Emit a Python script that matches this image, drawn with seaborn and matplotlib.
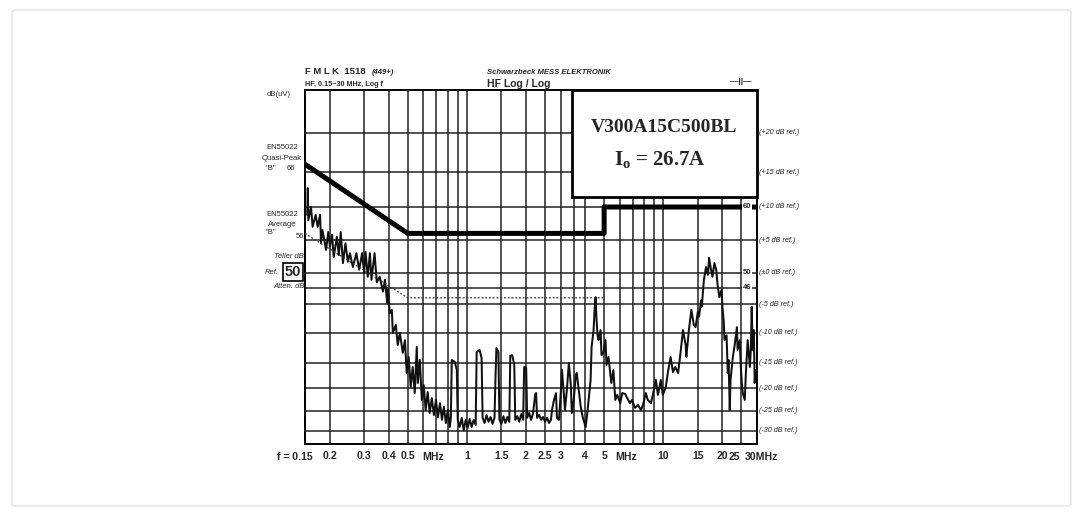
import numpy as np
import matplotlib
matplotlib.use("Agg")
import matplotlib.pyplot as plt
from matplotlib.patches import Rectangle, FancyBboxPatch
from matplotlib.ticker import NullLocator
import seaborn as sns

# --- data (MHz / dB(uV)) ---
grid_freq = [0.15, 0.2, 0.3, 0.4, 0.5, 0.6, 0.7, 0.8, 0.9, 1, 1.5, 2, 2.5, 3, 3.5, 4,
             5, 6, 7, 8, 9, 10, 15, 20, 25, 30]
tick_freq = [0.2, 0.3, 0.4, 0.5, 1, 1.5, 2, 2.5, 3, 4, 5, 10, 15, 20]
tick_text = ['0.2', '0.3', '0.4', '0.5', '1', '1.5', '2', '2.5', '3', '4', '5', '10', '15', '20']

grid_level = [20, 25, 30, 35, 40, 45, 50, 55, 60, 65, 70]
ref_text = ['(-30 dB ref.)', '(-25 dB ref.)', '(-20 dB ref.)', '(-15 dB ref.)', '(-10 dB ref.)',
            '(-5 dB ref.)', '(±0 dB ref.)', '(+5 dB ref.)', '(+10 dB ref.)', '(+15 dB ref.)',
            '(+20 dB ref.)']
mark_level = [60, 50, 47.6]
mark_text = ['60', '50', '46']

# EN55022 class B limits
qp_freq = [0.15, 0.5, 5, 5, 30]
qp_level = [66, 56, 56, 60, 60]
avg_freq = [0.15, 0.5, 5]
avg_level = [56, 46, 46]

# measured trace
trace_freq = [0.154, 0.155, 0.156, 0.161, 0.164, 0.170, 0.174, 0.179, 0.181, 0.184, 0.192, 0.197,
              0.201, 0.206, 0.210, 0.218, 0.223, 0.228, 0.234, 0.241, 0.248, 0.254, 0.263, 0.274,
              0.283, 0.293, 0.300, 0.305, 0.313, 0.321, 0.327, 0.339, 0.348, 0.360, 0.374, 0.383,
              0.393, 0.397, 0.405, 0.415, 0.420, 0.435, 0.445, 0.456, 0.472, 0.484, 0.494, 0.506,
              0.518, 0.530, 0.543, 0.556, 0.563, 0.576, 0.590, 0.603, 0.617, 0.632, 0.647, 0.663,
              0.680, 0.696, 0.713, 0.730, 0.747, 0.764, 0.782, 0.800, 0.819, 0.829, 0.838, 0.868,
              0.889, 0.899, 0.920, 0.942, 0.964, 0.987, 1.010, 1.034, 1.058, 1.083, 1.109, 1.122,
              1.161, 1.189, 1.203, 1.231, 1.260, 1.289, 1.320, 1.351, 1.383, 1.398, 1.414, 1.448,
              1.465, 1.499, 1.535, 1.571, 1.608, 1.645, 1.664, 1.703, 1.744, 1.764, 1.806, 1.848,
              1.891, 1.935, 1.958, 2.005, 2.028, 2.076, 2.124, 2.175, 2.226, 2.252, 2.278, 2.332,
              2.387, 2.443, 2.501, 2.560, 2.620, 2.682, 2.713, 2.777, 2.843, 2.876, 2.945, 3.013,
              3.049, 3.121, 3.157, 3.231, 3.306, 3.384, 3.423, 3.502, 3.585, 3.627, 3.712, 3.800,
              3.889, 4.025, 4.120, 4.168, 4.266, 4.316, 4.418, 4.470, 4.522, 4.575, 4.629, 4.682,
              4.793, 4.849, 4.960, 5.08, 5.14, 5.26, 5.38, 5.44, 5.57, 5.70, 5.83, 6.04,
              6.18, 6.40, 6.55, 6.77, 6.93, 7.18, 7.44, 7.70, 7.88, 8.15, 8.34, 8.65,
              8.85, 9.17, 9.39, 9.72, 9.95, 10.3, 10.6, 10.9, 11.2, 11.5, 11.9, 12.2,
              12.6, 13.0, 13.1, 13.5, 13.9, 14.3, 14.6, 15.0, 15.2, 15.6, 15.7, 16.1,
              16.5, 16.9, 17.1, 17.5, 17.8, 18.2, 18.6, 18.9, 19.3, 19.8, 20.0, 20.3,
              20.5, 21.0, 21.3, 21.5, 21.8, 22.0, 22.6, 23.1, 23.7, 23.9, 24.5, 24.8,
              25.1, 25.4, 26.0, 26.3, 26.6, 26.9, 27.6, 27.9, 28.2, 28.5, 28.9, 29.2, 29.5]
trace_level = [58.8, 62.7, 58.0, 60.0, 57.0, 58.8, 57.0, 58.8, 54.5, 56.5, 53.5, 56.2,
               54.0, 55.8, 52.4, 55.5, 52.7, 56.2, 51.5, 54.5, 51.7, 53.0, 50.9, 53.0,
               50.5, 53.0, 50.0, 53.2, 49.4, 53.0, 48.9, 53.0, 48.5, 49.4, 47.0, 48.9,
               45.2, 47.3, 43.4, 44.0, 40.0, 41.4, 38.0, 40.0, 36.7, 38.8, 33.0, 36.0,
               30.2, 34.2, 28.9, 37.7, 31.0, 35.5, 27.4, 30.6, 25.2, 29.1, 24.5, 27.8,
               24.0, 27.4, 23.5, 26.7, 22.8, 25.9, 22.0, 25.2, 21.0, 23.3, 35.5, 35.2,
               33.6, 22.8, 21.0, 23.3, 20.2, 22.8, 20.8, 23.0, 21.0, 22.8, 21.5, 36.8,
               37.2, 35.8, 23.3, 22.0, 24.0, 22.3, 23.5, 21.8, 23.3, 31.6, 37.5, 36.8,
               22.8, 21.8, 23.7, 22.0, 23.5, 22.3, 36.2, 36.3, 34.6, 22.8, 23.7, 22.3,
               24.2, 22.8, 34.2, 34.0, 23.3, 24.5, 22.8, 24.5, 28.5, 28.9, 23.3, 24.0,
               22.8, 23.5, 22.3, 23.3, 22.0, 22.8, 25.2, 27.4, 28.9, 23.3, 22.8, 29.6,
               33.6, 28.5, 25.2, 29.6, 35.0, 30.6, 24.5, 27.4, 32.6, 33.0, 29.6, 25.9,
               23.5, 21.0, 25.2, 27.4, 31.6, 37.7, 40.5, 44.0, 46.1, 42.2, 39.6, 38.8,
               40.5, 36.3, 36.7, 38.8, 34.6, 36.0, 32.6, 31.0, 33.6, 27.4, 28.5, 26.7,
               28.9, 28.7, 27.8, 26.7, 27.4, 25.7, 26.3, 25.2, 26.3, 28.9, 27.4, 26.7,
               28.5, 31.6, 28.5, 31.6, 28.5, 30.2, 33.6, 36.0, 33.2, 34.2, 33.0, 36.3,
               40.5, 38.0, 36.0, 40.5, 44.0, 41.4, 41.0, 43.7, 42.8, 45.6, 44.5, 48.9,
               50.9, 49.7, 52.3, 50.5, 49.4, 51.5, 50.5, 48.1, 46.1, 47.3, 44.5, 42.2,
               38.8, 39.6, 33.0, 35.5, 25.2, 31.6, 36.0, 38.0, 41.0, 37.2, 38.8, 34.6,
               31.0, 28.9, 27.4, 32.6, 36.0, 38.8, 34.2, 37.2, 44.5, 37.2, 40.5, 31.0, 33.6]

# the printed paper's dB axis is not evenly spaced: grid level -> position
paper_level = [17, 20, 25, 30, 35, 40, 45, 50, 55, 60, 65, 70, 75]
paper_pos = [-444, -431, -411, -388, -363, -333, -304, -273, -240, -207, -172, -133, -90]


def fwd(v):
    return np.interp(v, paper_level, paper_pos)


def inv(u):
    return np.interp(u, paper_pos, paper_level)


sns.set_theme(style="white")
plt.rcParams['font.family'] = ['Liberation Sans', 'DejaVu Sans']
plt.rcParams['mathtext.fontset'] = 'custom'
plt.rcParams['mathtext.rm'] = 'Liberation Serif:bold'

W, H = 1083, 516
fig = plt.figure(figsize=(W / 100, H / 100), dpi=100)
fig.patch.set_facecolor('white')
fig.patches.append(FancyBboxPatch((12 / W, 10 / H), 1059 / W, 496 / H, boxstyle='round,pad=0,rounding_size=0.004',
                                  transform=fig.transFigure, fc='none', ec='#dfe4e8', lw=1.0))

ax = fig.add_axes([305 / W, 1 - 444 / H, 452 / W, 354 / H])
ax.set_xscale('log')
ax.set_yscale('function', functions=(fwd, inv))
ax.set_xlim(0.15, 30)
ax.set_ylim(17, 75)

# grid
ax.set_xticks(grid_freq)
ax.xaxis.set_minor_locator(NullLocator())
ax.set_xticklabels([tick_text[tick_freq.index(f)] if f in tick_freq else '' for f in grid_freq])
ax.set_yticks(grid_level + [47.6])
ax.yaxis.set_minor_locator(NullLocator())
ax.set_yticklabels([])
ax.grid(True, color='#222222', lw=1.1)
ax.tick_params(length=0, axis='x', pad=5, labelsize=7.6)
ax.tick_params(length=0, axis='y')
for t in ax.get_xticklabels():
    t.set_fontweight('bold')
for s in ax.spines.values():
    s.set_color('black')
    s.set_linewidth(1.4)

# limits + trace
sns.lineplot(x=qp_freq, y=qp_level, ax=ax, color='black', lw=3.6, estimator=None, sort=False, zorder=4)
sns.lineplot(x=avg_freq, y=avg_level, ax=ax, color='#333333', lw=0.9, ls=(0, (1.5, 1.5)),
             estimator=None, sort=False, zorder=4)
sns.lineplot(x=trace_freq, y=trace_level, ax=ax, color='#111111', lw=1.45, estimator=None, sort=False, zorder=3)

# device box
ax.add_patch(Rectangle((0.591, 0.698), 0.409, 0.302, transform=ax.transAxes, fc='white', ec='black',
                       lw=2.0, zorder=6, clip_on=False))
ax.text(0.794, 0.895, 'V300A15C500BL', transform=ax.transAxes, ha='center', va='center', zorder=7,
        family='Liberation Serif', fontweight='bold', fontsize=14)
ax.text(0.785, 0.805, r'$\mathrm{I_o}$ = 26.7A', transform=ax.transAxes, ha='center', va='center', zorder=7,
        family='Liberation Serif', fontweight='bold', fontsize=15)

# right-hand reference labels
yt = ax.get_yaxis_transform()
for lv, txt in zip(grid_level, ref_text):
    ax.text(1.004, lv, txt, transform=yt, ha='left', va='center', fontsize=5.2, style='italic', clip_on=False)
for lv, txt in zip(mark_level, mark_text):
    ax.text(0.978, lv, txt, transform=yt, ha='center', va='center', fontsize=5.5, fontweight='bold', zorder=7,
            bbox=dict(boxstyle='square,pad=0.1', fc='white', ec='none'))

# extra bottom labels
xt = ax.get_xaxis_transform()
bkw = dict(transform=xt, va='center', fontsize=7.6, fontweight='bold')
ax.text(0.164, -0.037, 'f = 0.15', ha='right', **bkw)
ax.text(0.67, -0.037, 'MHz', ha='center', **bkw)
ax.text(6.5, -0.037, 'MHz', ha='center', **bkw)
ax.text(23.0, -0.037, '25', ha='center', **bkw)
ax.text(26.0, -0.037, '30MHz', ha='left', **bkw)

# header + left captions
def ft(x, y, s, **kw):
    fig.text(x / W, 1 - y / H, s, va='center', **kw)

ft(305, 72, 'F M L K  1518', fontsize=6.8, fontweight='bold')
ft(372, 72, '(449+)', fontsize=5.5, fontweight='bold', style='italic')
ft(305, 84, 'HF, 0.15\u221230 MHz, Log f', fontsize=5.2, fontweight='bold')
ft(487, 72, 'Schwarzbeck MESS ELEKTRONIK', fontsize=5.5, fontweight='bold', style='italic')
ft(487, 84, 'HF Log / Log', fontsize=7.5, fontweight='bold')
ft(741, 81, '\u2014||\u2014', fontsize=6, fontweight='bold', ha='center')
ft(279, 95, 'dB(uV)', fontsize=5.5, ha='center')
ft(282, 147, 'EN55022', fontsize=5.5, ha='center')
ft(282, 158, 'Quasi-Peak', fontsize=5.5, ha='center')
ft(271, 168, '"B"', fontsize=5.5, ha='center')
ft(291, 168, '66', fontsize=5.5, ha='center')
ft(282, 214, 'EN55022', fontsize=5.5, ha='center')
ft(282, 224, 'Average', fontsize=5.5, ha='center')
ft(271, 233, '"B"', fontsize=5.5, ha='center')
ft(300, 237, '56', fontsize=5.5, ha='center')
ft(289, 257, 'Teller dB', fontsize=5.5, ha='center', style='italic')
ft(272, 273, 'Ref.', fontsize=5.5, ha='center', style='italic')
ft(293, 272, '50', fontsize=10.5, ha='center', fontweight='bold',
   bbox=dict(boxstyle='square,pad=0.12', fc='white', ec='black', lw=1.2))
ft(289, 287, 'Atten. dB', fontsize=5.5, ha='center', style='italic')

fig.savefig('out.png', dpi=100, facecolor='white')
